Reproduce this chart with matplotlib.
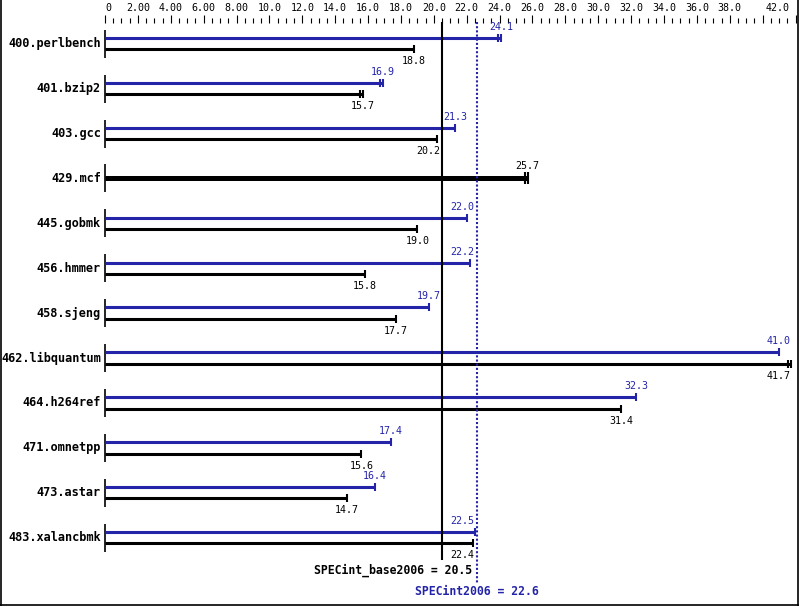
import numpy as np
import matplotlib
matplotlib.use("Agg")
import matplotlib.pyplot as plt
from matplotlib.lines import Line2D

# SPEC CPU2006 integer results, peak (blue) and base (black)
benchmarks = ["400.perlbench", "401.bzip2", "403.gcc", "429.mcf", "445.gobmk",
              "456.hmmer", "458.sjeng", "462.libquantum", "464.h264ref",
              "471.omnetpp", "473.astar", "483.xalancbmk"]
peak = [24.1, 16.9, 21.3, 25.7, 22.0, 22.2, 19.7, 41.0, 32.3, 17.4, 16.4, 22.5]
base = [18.8, 15.7, 20.2, 25.7, 19.0, 15.8, 17.7, 41.7, 31.4, 15.6, 14.7, 22.4]
# bars whose run ticks are doubled
peak_double = [True, True, False, True, False, False, False, False, False, False, False, False]
base_double = [False, True, False, True, False, False, False, True, False, False, False, False]
peak_mean = 22.6
base_mean = 20.5
tick_labels = ["0", "2.00", "4.00", "6.00", "8.00", "10.0", "12.0", "14.0", "16.0",
               "18.0", "20.0", "22.0", "24.0", "26.0", "28.0", "30.0", "32.0",
               "34.0", "36.0", "38.0", "", "42.0"]

BLUE = "#2424a8"
W, H = 799, 606
X0 = 105.0                # pixel of value 0
S = (795.5 - X0) / 42.0   # pixels per unit
Y0 = 43.7                 # pixel of first row centre
DY = 44.9                 # row spacing in pixels

def px2x(px):
    return (px - X0) / S

def px2y(py):
    return (py - Y0) / DY

fig = plt.figure(figsize=(W / 100, H / 100), dpi=100)
ax = fig.add_axes([0, 0, 1, 1])
ax.set_xlim(px2x(0), px2x(W))
ax.set_ylim(px2y(H), px2y(0))
ax.axis("off")

mono = "DejaVu Sans Mono"
off = 5.7 / DY
lw_bar = 2.2
tick_h = 4.0 / DY
tw = 24.0 / S          # width of a value label
gap = 1.0 / S

def label_x(v):
    lo, hi = v - tw / 2, v + tw / 2
    for L in (base_mean, peak_mean):
        if lo < L + gap and hi > L - gap:
            if v < L:
                hi = L - gap * 2
                lo = hi - tw
            else:
                lo = L + gap
                hi = lo + tw
    right = px2x(791)
    if hi > right:
        hi = right
        lo = hi - tw
    return (lo + hi) / 2

def end_ticks(v, y, color, double, lw=1.5, h=tick_h):
    ax.plot([v, v], [y - h, y + h], color=color, lw=lw, solid_capstyle="butt")
    if double:
        d = v - 3.0 / S
        ax.plot([d, d], [y - h, y + h], color=color, lw=lw, solid_capstyle="butt")

for i, name in enumerate(benchmarks):
    ax.text(px2x(101), i, name, ha="right", va="center", fontsize=8.6,
            fontweight="bold", family=mono, color="black")
    ax.plot([0, 0], [i - 14 / DY, i + 14 / DY], color="black", lw=1.2,
            solid_capstyle="butt")
    p, b = peak[i], base[i]
    if p == b:
        ax.plot([0, b], [i, i], color="black", lw=3.6, solid_capstyle="butt")
        end_ticks(b, i, "black", base_double[i], h=6 / DY)
        ax.text(label_x(b), i - 12 / DY, f"{b:.1f}", ha="center", va="center",
                fontsize=7.2, family=mono, color="black")
        continue
    yp, yb = i - off, i + off
    ax.plot([0, p], [yp, yp], color=BLUE, lw=lw_bar, solid_capstyle="butt")
    end_ticks(p, yp, BLUE, peak_double[i])
    ax.text(label_x(p), yp - 11 / DY, f"{p:.1f}", ha="center", va="center",
            fontsize=7.2, family=mono, color=BLUE)
    ax.plot([0, b], [yb, yb], color="black", lw=lw_bar, solid_capstyle="butt")
    end_ticks(b, yb, "black", base_double[i])
    ax.text(label_x(b), yb + 12 / DY, f"{b:.1f}", ha="center", va="center",
            fontsize=7.2, family=mono, color="black")

# scale at the top
for t in np.arange(0, 42.01, 0.5):
    top = 15 if t % 2 == 0 else 18
    ax.plot([t, t], [px2y(top), px2y(23)], color="black", lw=0.8,
            solid_capstyle="butt")
for k, lab in enumerate(tick_labels):
    if not lab:
        continue
    v = 2 * k
    if k == 0:
        ax.text(px2x(105), px2y(8), lab, ha="left", va="center", fontsize=7.2,
                family=mono)
    elif k == len(tick_labels) - 1:
        ax.text(px2x(790), px2y(8), lab, ha="right", va="center", fontsize=7.2,
                family=mono)
    else:
        ax.text(v, px2y(8), lab, ha="center", va="center", fontsize=7.2,
                family=mono)

# geometric means
ax.plot([base_mean, base_mean], [px2y(22), px2y(560)], color="black", lw=1.5,
        solid_capstyle="butt")
ax.plot([peak_mean, peak_mean], [px2y(22), px2y(583)], color=BLUE, lw=1.5,
        linestyle=(0, (1, 1)))
ax.text(px2x(472), px2y(570), f"SPECint_base2006 = {base_mean:.1f}", ha="right",
        va="center", fontsize=8.3, fontweight="bold", family=mono, color="black")
ax.text(peak_mean, px2y(591), f"SPECint2006 = {peak_mean:.1f}", ha="center",
        va="center", fontsize=8.3, fontweight="bold", family=mono, color=BLUE)

# frame
for xs, ys in (([0.5 / W, 0.5 / W], [0, 1]), ([797.5 / W, 797.5 / W], [0, 1]),
               ([0, 1], [1.5 / H, 1.5 / H])):
    fig.add_artist(Line2D(xs, ys, color="black", lw=1.2))

fig.savefig("out.png", dpi=100)
